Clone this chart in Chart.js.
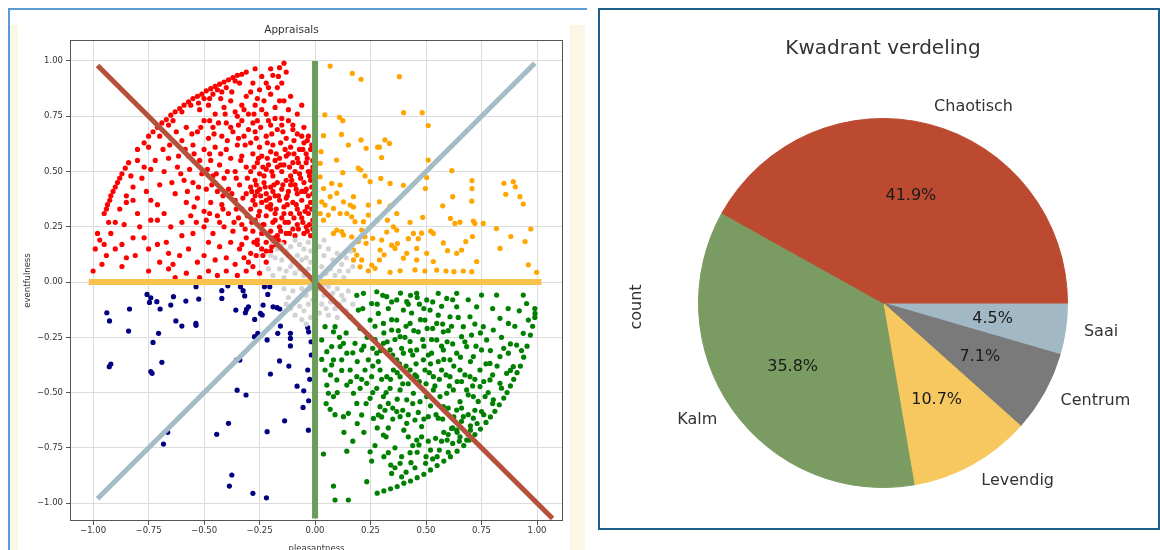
<!DOCTYPE html>
<html>
<head>
<meta charset="utf-8">
<script src="https://cdn.jsdelivr.net/npm/chart.js@4.4.1/dist/chart.umd.min.js"></script>
<style>
  html, body { margin:0; padding:0; background:#fff; width:1160px; height:550px; overflow:hidden; }
  .frameL { position:absolute; left:8px; top:8px; width:577px; height:560px; border-top:2px solid #5b9bd5; border-left:2px solid #5b9bd5; }
  .cream { position:absolute; background:#fbf7e6; }
  #leftBox { position:absolute; left:0; top:0; width:590px; height:560px; }
  #rightPanel { position:absolute; left:598px; top:8px; width:558px; height:518px; border:2px solid #1f5f8b; }
  #rightBox { position:absolute; left:600px; top:10px; width:556px; height:516px; }
</style>
</head>
<body>
<div class="frameL"></div>
<div class="cream" style="left:10px; top:25px; width:8px; height:530px;"></div>
<div class="cream" style="left:570px; top:25px; width:15px; height:530px;"></div>
<div id="leftBox"><canvas id="appraisalChart"></canvas></div>
<div id="rightPanel"></div>
<div id="rightBox"><canvas id="quadrantPie"></canvas></div>
<script>
const FONT = '"DejaVu Sans", sans-serif';

// tick labels
const xTicks = [-1.00, -0.75, -0.50, -0.25, 0.00, 0.25, 0.50, 0.75, 1.00];
const yTicks = [-1.00, -0.75, -0.50, -0.25, 0.00, 0.25, 0.50, 0.75, 1.00];

// quadrant divider lines, [x, y] start and end
const lineBrown = [[-0.98, 0.98], [1.07, -1.07]];
const lineBlue = [[-0.98, -0.98], [0.99, 0.99]];
const lineGreen = [[0, 1.0], [0, -1.07]];
const lineYellow = [[-1.02, 0], [1.02, 0]];

// scatter points per quadrant [pleasantness, eventfulness]
const chaotischPts = [
  [-0.31,0.95],[-0.33,0.94],[-0.35,0.935],[-0.37,0.925],[-0.39,0.915],[-0.41,0.905],[-0.43,0.895],[-0.45,0.885],[-0.47,0.875],[-0.49,0.865],
  [-0.51,0.85],[-0.53,0.84],[-0.55,0.83],[-0.57,0.815],[-0.59,0.8],[-0.61,0.785],[-0.63,0.77],[-0.65,0.755],[-0.67,0.735],[-0.69,0.72],
  [-0.71,0.7],[-0.73,0.68],[-0.75,0.66],[-0.77,0.63],[-0.8,0.6],[-0.84,0.54],[-0.855,0.515],[-0.87,0.49],[-0.88,0.47],[-0.89,0.45],
  [-0.9,0.43],[-0.91,0.41],[-0.92,0.39],[-0.925,0.37],[-0.935,0.35],[-0.94,0.33],[-0.95,0.31],
  [-0.34,0.9],[-0.4,0.88],[-0.46,0.85],[-0.5,0.83],[-0.44,0.87],[-0.56,0.8],[-0.6,0.77],[-0.64,0.73],[-0.36,0.91],[-0.42,0.86],[-0.66,0.71],[-0.7,0.66],
  [-0.14,0.99],[-0.16,0.97],[-0.2,0.965],[-0.27,0.965],[-0.24,0.93],[-0.19,0.935],[-0.165,0.93],[-0.28,0.9],[-0.22,0.9],[-0.17,0.88],
  [-0.25,0.87],[-0.29,0.86],[-0.2,0.85],[-0.14,0.82],[-0.23,0.82],[-0.31,0.84],[-0.27,0.8],[-0.18,0.79],[-0.12,0.78],[-0.22,0.76],
  [-0.3,0.76],[-0.08,0.76],[-0.15,0.74],[-0.26,0.73],[-0.35,0.75],[-0.1,0.71],[-0.05,0.7],[-0.2,0.71],
  [-0.52,0.78],[-0.48,0.8],[-0.45,0.76],[-0.41,0.79],[-0.38,0.82],[-0.36,0.77],[-0.33,0.73],[-0.4,0.72],[-0.46,0.7],[-0.5,0.73],
  [-0.53,0.68],[-0.48,0.65],[-0.42,0.66],[-0.37,0.68],[-0.32,0.66],[-0.35,0.62],[-0.4,0.6],[-0.45,0.61],[-0.5,0.6],[-0.55,0.62],
  [-0.52,0.55],[-0.47,0.55],[-0.43,0.53],[-0.38,0.56],[-0.33,0.57],[-0.31,0.52],[-0.36,0.5],[-0.41,0.47],[-0.46,0.48],[-0.51,0.49],
  [-0.55,0.45],[-0.49,0.42],[-0.44,0.41],[-0.39,0.42],[-0.34,0.44],[-0.31,0.4],[-0.36,0.37],[-0.42,0.35],[-0.47,0.36],[-0.53,0.38],
  [-0.5,0.32],[-0.44,0.3],[-0.39,0.31],[-0.33,0.33],[-0.58,0.7],[-0.6,0.64],[-0.57,0.57],[-0.62,0.52],[-0.59,0.46],[-0.63,0.4],[-0.58,0.36],
  [-0.75,0.61],[-0.8,0.55],[-0.74,0.51],[-0.78,0.47],[-0.82,0.43],[-0.85,0.39],[-0.82,0.37],[-0.88,0.33],[-0.85,0.36],[-0.74,0.37],
  [-0.7,0.44],[-0.68,0.5],[-0.66,0.56],[-0.71,0.28],[-0.68,0.31],[-0.74,0.28],[-0.79,0.25],[-0.65,0.25],[-0.6,0.21],[-0.67,0.18],
  [-0.61,0.12],[-0.66,0.13],[-0.66,0.06],[-0.7,0.09],[-0.75,0.15],[-0.82,0.2],[-0.87,0.17],[-0.85,0.11],[-0.87,0.07],[-0.92,0.22],
  [-0.95,0.17],[-0.97,0.19],[-0.98,0.22],[-0.99,0.15],[-0.94,0.12],[-1.0,0.05],[-0.9,0.27],[-0.56,0.3],[-0.6,0.27],[-0.55,0.22],
  [-0.57,0.15],[-0.53,0.09],[-0.58,0.04],[-0.63,0.02],
  [-0.5,0.25],[-0.46,0.22],[-0.41,0.25],[-0.37,0.23],[-0.33,0.26],[-0.48,0.18],[-0.43,0.16],[-0.38,0.18],[-0.34,0.15],[-0.31,0.2],
  [-0.5,0.12],[-0.45,0.1],[-0.4,0.11],[-0.36,0.08],[-0.32,0.11],[-0.48,0.05],[-0.44,0.03],[-0.4,0.05],[-0.35,0.03],[-0.31,0.05],
  [-0.52,0.02],[-0.28,0.07],[-0.25,0.04],[-0.22,0.09],[-0.29,0.13],[-0.26,0.17],[-0.22,0.14],[-0.19,0.19],
  [-0.27,0.68],[-0.22,0.66],[-0.17,0.69],[-0.13,0.65],[-0.08,0.67],[-0.03,0.66],[-0.29,0.63],[-0.19,0.62],[-0.11,0.61],[-0.05,0.63],[-0.25,0.61],
  [-0.28,0.58],[-0.24,0.57],[-0.2,0.59],[-0.16,0.56],[-0.12,0.58],[-0.08,0.56],[-0.04,0.58],[-0.01,0.55],[-0.26,0.54],[-0.21,0.53],
  [-0.14,0.53],[-0.06,0.52],[-0.1,0.54],[-0.18,0.55],
  [-0.29,0.5],[-0.25,0.49],[-0.22,0.51],[-0.19,0.48],[-0.15,0.5],[-0.11,0.48],[-0.07,0.49],[-0.03,0.5],[-0.02,0.46],[-0.27,0.46],
  [-0.23,0.45],[-0.17,0.45],[-0.13,0.46],[-0.09,0.44],[-0.05,0.45],[-0.2,0.43],[-0.15,0.42],
  [-0.29,0.43],[-0.26,0.41],[-0.22,0.4],[-0.18,0.39],[-0.12,0.41],[-0.08,0.4],[-0.04,0.42],[-0.01,0.4],[-0.28,0.37],[-0.24,0.36],
  [-0.2,0.35],[-0.16,0.37],[-0.1,0.36],[-0.06,0.37],[-0.02,0.36],[-0.13,0.38],[-0.27,0.39],[-0.14,0.34],[-0.08,0.33],
  [-0.29,0.33],[-0.25,0.32],[-0.22,0.3],[-0.18,0.31],[-0.15,0.29],[-0.11,0.31],[-0.06,0.29],[-0.03,0.31],[-0.01,0.28],[-0.27,0.28],
  [-0.23,0.26],[-0.19,0.27],[-0.16,0.25],[-0.12,0.27],[-0.08,0.26],[-0.04,0.25],[-0.2,0.33],[-0.1,0.24],
  [-0.28,0.23],[-0.24,0.22],[-0.2,0.23],[-0.17,0.21],[-0.13,0.22],[-0.09,0.21],[-0.05,0.22],[-0.02,0.21],[-0.26,0.19],[-0.22,0.18],
  [-0.18,0.17],[-0.14,0.18],[-0.24,0.15],[-0.2,0.14],[-0.01,0.24],
  [-0.02,0.6],[-0.01,0.52],[-0.04,0.54],[-0.015,0.43],[-0.035,0.34],[-0.06,0.41],[-0.07,0.6],[-0.13,0.57],[-0.17,0.52],[-0.23,0.48],
  [-0.09,0.5],[-0.11,0.44],[-0.19,0.41],[-0.25,0.42],[-0.03,0.39],[-0.14,0.31],[-0.07,0.31],[-0.18,0.28],[-0.22,0.37],[-0.27,0.35],
  [-0.28,0.72],[-0.18,0.74],[-0.12,0.73],[-0.24,0.78],[-0.33,0.8],[-0.16,0.82],[-0.3,0.69],
  [-0.345,0.71],[-0.315,0.62],[-0.335,0.55],[-0.305,0.47],[-0.325,0.38],[-0.345,0.29],[-0.315,0.24],[-0.33,0.17],[-0.3,0.09],[-0.265,0.12],
  [-0.235,0.26],[-0.255,0.3],[-0.215,0.34],[-0.175,0.33],[-0.135,0.27],[-0.095,0.29],[-0.055,0.27],[-0.025,0.26],[-0.045,0.32],[-0.085,0.35],
  [-0.125,0.35],[-0.165,0.39],[-0.205,0.38],[-0.245,0.39],[-0.285,0.41],[-0.265,0.44],[-0.225,0.43],[-0.185,0.44],[-0.145,0.44],[-0.105,0.46],
  [-0.065,0.47],[-0.025,0.48],[-0.045,0.41],[-0.085,0.42],[-0.125,0.39],[-0.015,0.33],[-0.015,0.5],[-0.035,0.56],[-0.075,0.54],[-0.115,0.52],
  [-0.155,0.53],[-0.195,0.5],[-0.235,0.52],[-0.275,0.52],[-0.255,0.56],[-0.215,0.56],[-0.175,0.58],[-0.135,0.6],[-0.095,0.58],[-0.055,0.6],
  [-0.015,0.62],[-0.035,0.64],[-0.095,0.64],[-0.155,0.63],[-0.215,0.63],[-0.265,0.65],[-0.245,0.7],[-0.195,0.67],[-0.145,0.68],[-0.1,0.69],
  [-0.06,0.66],[-0.15,0.71],[-0.21,0.73],[-0.275,0.76],[-0.185,0.2],[-0.155,0.23],[-0.115,0.22],[-0.075,0.24],[-0.035,0.23],[-0.245,0.25],
  [-0.285,0.27],[-0.305,0.3],[-0.275,0.18],[-0.235,0.12],[-0.195,0.16],[-0.165,0.19],
  [-0.375,0.86],[-0.425,0.83],[-0.475,0.83],[-0.525,0.81],[-0.405,0.76],[-0.435,0.72],[-0.475,0.73],[-0.515,0.7],[-0.555,0.67],[-0.455,0.67],
  [-0.395,0.64],[-0.345,0.65],[-0.425,0.58],[-0.475,0.58],[-0.545,0.58],[-0.585,0.6],[-0.615,0.57],[-0.605,0.49],[-0.565,0.51],[-0.485,0.51],
  [-0.445,0.49],[-0.395,0.5],[-0.355,0.47],[-0.375,0.4],[-0.415,0.39],[-0.465,0.44],[-0.525,0.43],[-0.575,0.41],[-0.645,0.45],[-0.545,0.34],
  [-0.475,0.31],[-0.415,0.33],[-0.355,0.33],[-0.365,0.27],[-0.43,0.27],[-0.49,0.28],[-0.535,0.27],[-0.655,0.62],[-0.625,0.68],[-0.685,0.6],
  [-0.72,0.55],[-0.77,0.52],[-0.83,0.48],[-0.76,0.41],[-0.71,0.35],[-0.8,0.31],[-0.86,0.26],[-0.93,0.27],[-0.77,0.2],[-0.71,0.17],
  [-0.64,0.08],[-0.75,0.05],[-0.81,0.12],[-0.9,0.15],[-0.96,0.08],
  [-0.26,0.83],[-0.21,0.88],[-0.15,0.9],[-0.11,0.84],[-0.06,0.8],[-0.32,0.78],[-0.38,0.7],[-0.13,0.95]
];

const levendigPts = [
  [0.068,0.977],[0.168,0.944],[0.207,0.917],[0.38,0.929],[0.399,0.766],[0.483,0.766],[0.51,0.708],[0.044,0.756],[0.11,0.745],[0.125,0.73],
  [0.038,0.662],[0.119,0.668],[0.207,0.643],[0.282,0.61],[0.29,0.61],[0.315,0.643],[0.335,0.627],[0.23,0.605],[0.15,0.62],[0.027,0.59],
  [0.097,0.552],[0.3,0.563],[0.023,0.537],[0.51,0.552],[0.195,0.515],[0.206,0.507],[0.125,0.495],[0.225,0.48],[0.248,0.454],[0.296,0.469],
  [0.338,0.446],[0.398,0.438],[0.503,0.473],[0.616,0.504],[0.707,0.459],[0.707,0.423],[0.851,0.447],[0.893,0.454],[0.902,0.431],[0.859,0.397],
  [0.923,0.386],[0.938,0.353],[0.497,0.423],[0.62,0.386],[0.706,0.366],[0.575,0.345],[0.61,0.288],[0.63,0.265],[0.653,0.271],[0.713,0.276],
  [0.72,0.265],[0.758,0.265],[0.817,0.242],[0.972,0.24],[0.882,0.206],[0.833,0.152],[0.946,0.183],[0.961,0.078],[0.998,0.044],[0.709,0.206],
  [0.679,0.183],[0.66,0.145],[0.638,0.13],[0.597,0.142],[0.578,0.177],[0.728,0.093],[0.706,0.047],[0.668,0.05],[0.626,0.047],[0.59,0.05],
  [0.548,0.054],[0.533,0.093],[0.503,0.13],[0.458,0.152],[0.42,0.196],[0.48,0.221],[0.443,0.22],[0.465,0.196],[0.521,0.23],[0.533,0.22],
  [0.485,0.293],[0.428,0.27],[0.368,0.31],[0.353,0.25],[0.368,0.235],[0.323,0.226],[0.3,0.19],[0.345,0.167],[0.36,0.152],[0.371,0.174],
  [0.398,0.108],[0.458,0.1],[0.45,0.055],[0.495,0.05],[0.413,0.13],[0.293,0.145],[0.311,0.123],[0.29,0.1],[0.255,0.077],[0.27,0.062],
  [0.338,0.044],[0.383,0.051],[0.23,0.175],[0.26,0.198],[0.225,0.205],[0.21,0.235],[0.218,0.273],[0.24,0.303],[0.28,0.28],[0.326,0.28],
  [0.338,0.344],[0.29,0.363],[0.24,0.348],[0.173,0.386],[0.173,0.34],[0.165,0.295],[0.18,0.273],[0.12,0.228],[0.128,0.213],[0.098,0.235],
  [0.083,0.22],[0.143,0.31],[0.113,0.31],[0.083,0.333],[0.06,0.303],[0.038,0.28],[0.023,0.31],[0.045,0.348],[0.068,0.386],[0.098,0.402],
  [0.113,0.439],[0.075,0.446],[0.038,0.423],[0.023,0.476],[0.03,0.363],[0.128,0.363],[0.158,0.348],[0.173,0.145],[0.188,0.122],[0.173,0.1],
  [0.21,0.1],[0.203,0.069],[0.24,0.051],[0.165,0.205],[0.195,0.183]
];

const kalmPts = [
  [0.28,-0.955],[0.31,-0.945],[0.34,-0.935],[0.37,-0.925],[0.4,-0.91],[0.43,-0.9],[0.46,-0.885],[0.49,-0.87],[0.52,-0.85],[0.55,-0.83],
  [0.58,-0.81],[0.61,-0.79],[0.64,-0.765],[0.67,-0.74],[0.695,-0.715],[0.72,-0.69],[0.745,-0.665],[0.77,-0.635],[0.79,-0.61],[0.81,-0.585],
  [0.83,-0.555],[0.85,-0.525],[0.865,-0.5],[0.88,-0.47],[0.895,-0.44],[0.91,-0.41],[0.925,-0.38],[0.94,-0.34],[0.955,-0.29],[0.97,-0.24],
  [0.98,-0.2],[0.99,-0.16],[0.99,-0.12],
  [0.6,-0.77],[0.65,-0.72],[0.7,-0.67],[0.73,-0.64],[0.76,-0.6],[0.8,-0.55],[0.69,-0.69],[0.55,-0.79],[0.84,-0.48],[0.88,-0.4],
  [0.038,-0.778],[0.083,-0.923],[0.09,-0.986],[0.15,-0.986],[0.143,-0.765],[0.233,-0.903],[0.248,-0.768],[0.255,-0.81],[0.308,-0.692],[0.33,-0.772],
  [0.341,-0.828],[0.345,-0.866],[0.383,-0.82],[0.39,-0.881],[0.432,-0.817],[0.428,-0.772],[0.458,-0.715],[0.468,-0.737],[0.498,-0.82],[0.52,-0.76],
  [0.543,-0.707],[0.595,-0.715],[0.615,-0.662],[0.638,-0.67],[0.653,-0.7],[0.683,-0.715],[0.068,-0.576],[0.06,-0.503],[0.083,-0.518],[0.128,-0.609],
  [0.15,-0.594],[0.188,-0.549],[0.21,-0.601],[0.173,-0.503],[0.248,-0.526],[0.263,-0.617],[0.285,-0.601],[0.293,-0.564],[0.33,-0.549],[0.368,-0.586],
  [0.383,-0.609],[0.413,-0.639],[0.45,-0.624],[0.48,-0.654],[0.51,-0.609],[0.555,-0.616],[0.578,-0.564],[0.638,-0.579],[0.668,-0.609],[0.713,-0.616],
  [0.75,-0.586],[0.766,-0.518],[0.803,-0.533],[0.833,-0.458],[0.863,-0.413],[0.893,-0.383],[0.788,-0.443],[0.743,-0.473],[0.713,-0.518],[0.683,-0.488],
  [0.653,-0.541],[0.623,-0.488],[0.593,-0.503],[0.563,-0.518],[0.533,-0.488],[0.503,-0.518],[0.473,-0.541],[0.443,-0.503],[0.413,-0.533],[0.383,-0.488],
  [0.338,-0.481],[0.308,-0.518],[0.278,-0.481],[0.233,-0.458],[0.203,-0.481],[0.143,-0.466],[0.098,-0.443],[0.053,-0.466],[0.045,-0.398],[0.075,-0.375],
  [0.053,-0.315],[0.083,-0.352],[0.12,-0.352],[0.158,-0.398],[0.188,-0.428],[0.225,-0.398],[0.255,-0.428],[0.293,-0.398],[0.323,-0.428],[0.353,-0.398],
  [0.383,-0.428],[0.428,-0.398],[0.458,-0.428],[0.495,-0.398],[0.533,-0.428],[0.57,-0.398],[0.608,-0.428],[0.653,-0.398],[0.698,-0.428],[0.743,-0.398],
  [0.788,-0.368],[0.833,-0.337],[0.871,-0.322],[0.908,-0.285],[0.938,-0.232],[0.961,-0.172],[0.991,-0.142],[0.938,-0.059],[0.953,-0.097],[0.818,-0.059],
  [0.833,-0.164],[0.871,-0.187],[0.803,-0.217],[0.773,-0.262],[0.75,-0.307],[0.713,-0.337],[0.683,-0.292],[0.66,-0.247],[0.638,-0.322],[0.608,-0.352],
  [0.578,-0.307],[0.548,-0.262],[0.525,-0.322],[0.488,-0.352],[0.458,-0.307],[0.428,-0.269],[0.398,-0.322],[0.368,-0.352],[0.338,-0.307],[0.308,-0.277],
  [0.278,-0.322],[0.24,-0.352],[0.21,-0.307],[0.18,-0.277],[0.143,-0.322],[0.113,-0.292],[0.075,-0.292],[0.03,-0.262],[0.045,-0.202],[0.083,-0.225],
  [0.128,-0.277],[0.203,-0.209],[0.248,-0.172],[0.285,-0.142],[0.308,-0.187],[0.345,-0.217],[0.383,-0.247],[0.368,-0.172],[0.398,-0.127],[0.428,-0.187],
  [0.465,-0.225],[0.495,-0.172],[0.518,-0.127],[0.548,-0.187],[0.578,-0.225],[0.608,-0.157],[0.638,-0.112],[0.668,-0.202],[0.698,-0.157],[0.728,-0.112],
  [0.75,-0.059],[0.758,-0.202],[0.638,-0.051],[0.593,-0.074],[0.555,-0.051],[0.503,-0.081],[0.458,-0.051],[0.413,-0.089],[0.368,-0.081],[0.323,-0.066],
  [0.278,-0.044],[0.255,-0.097],[0.218,-0.051],[0.195,-0.127],[0.188,-0.06],[0.158,-0.157],[0.09,-0.202],
  [0.33,-0.12],[0.36,-0.26],[0.41,-0.2],[0.44,-0.33],[0.47,-0.1],[0.49,-0.29],[0.52,-0.37],[0.45,-0.42],[0.38,-0.37],[0.34,-0.44],
  [0.42,-0.46],[0.5,-0.46],[0.56,-0.44],[0.58,-0.35],[0.53,-0.21],[0.43,-0.06],[0.39,-0.3],[0.31,-0.23],[0.27,-0.2],[0.26,-0.38],
  [0.6,-0.22],[0.62,-0.28],[0.66,-0.45],[0.71,-0.47],[0.35,-0.57],[0.4,-0.67],[0.44,-0.74],[0.5,-0.79],[0.56,-0.76],[0.58,-0.68],
  [0.62,-0.73],[0.3,-0.61],[0.22,-0.68],[0.19,-0.64],[0.33,-0.66],
  [0.215,-0.12],[0.235,-0.25],[0.26,-0.3],[0.285,-0.36],[0.3,-0.44],[0.32,-0.5],[0.35,-0.33],[0.37,-0.41],[0.395,-0.46],[0.41,-0.38],
  [0.43,-0.31],[0.455,-0.37],[0.47,-0.45],[0.485,-0.26],[0.51,-0.33],[0.515,-0.41],[0.54,-0.47],[0.555,-0.36],[0.57,-0.29],[0.59,-0.42],
  [0.605,-0.47],[0.625,-0.38],[0.64,-0.45],[0.655,-0.34],[0.675,-0.42],[0.69,-0.51],[0.7,-0.36],[0.72,-0.44],[0.735,-0.54],[0.76,-0.45],
  [0.27,-0.26],[0.295,-0.31],[0.325,-0.27],[0.345,-0.17],[0.375,-0.22],[0.405,-0.25],[0.435,-0.14],[0.445,-0.22],[0.475,-0.17],[0.505,-0.21],
  [0.525,-0.26],[0.555,-0.15],[0.575,-0.19],[0.595,-0.27],[0.615,-0.2],[0.645,-0.16],[0.675,-0.27],[0.705,-0.24],[0.725,-0.29],[0.745,-0.23],
  [0.23,-0.55],[0.26,-0.5],[0.28,-0.66],[0.315,-0.58],[0.35,-0.62],[0.37,-0.53],[0.395,-0.58],[0.42,-0.6],[0.44,-0.55],[0.465,-0.59],
  [0.49,-0.62],[0.52,-0.56],[0.545,-0.6],[0.575,-0.62],[0.6,-0.57],[0.625,-0.61],[0.66,-0.57],[0.69,-0.6],[0.72,-0.58],[0.7,-0.65],
  [0.28,-0.1],[0.305,-0.06],[0.345,-0.09],[0.385,-0.05],[0.42,-0.1],[0.46,-0.07],[0.49,-0.12],[0.53,-0.09],[0.57,-0.11],[0.62,-0.08],
  [0.32,-0.7],[0.36,-0.75],[0.39,-0.79],[0.42,-0.7],[0.46,-0.77],[0.48,-0.7],[0.51,-0.72],[0.53,-0.8],[0.57,-0.72],[0.6,-0.69],
  [0.45,-0.84],[0.41,-0.86],[0.36,-0.84],[0.31,-0.79],[0.27,-0.74],[0.64,-0.68],[0.66,-0.63],[0.62,-0.66],
  [0.78,-0.5],[0.8,-0.42],[0.82,-0.38],[0.85,-0.3],[0.79,-0.31],[0.84,-0.25],[0.9,-0.2],[0.87,-0.12],[0.92,-0.13],[0.8,-0.12],
  [0.77,-0.37],[0.72,-0.19],[0.69,-0.08],[0.88,-0.28],[0.93,-0.31],
  [0.03,-0.35],[0.07,-0.42],[0.1,-0.5],[0.12,-0.4],[0.16,-0.45],[0.19,-0.36],[0.14,-0.23],[0.17,-0.32],[0.11,-0.25],[0.05,-0.55],
  [0.09,-0.6],[0.13,-0.68],[0.17,-0.72],[0.21,-0.44],[0.22,-0.29]
];

const saaiPts = [
  [-0.938,-0.139],[-0.926,-0.176],[-0.836,-0.122],[-0.84,-0.222],[-0.927,-0.383],[-0.92,-0.371],[-0.757,-0.056],[-0.74,-0.071],[-0.746,-0.092],[-0.713,-0.089],
  [-0.698,-0.122],[-0.705,-0.232],[-0.73,-0.273],[-0.74,-0.405],[-0.734,-0.413],[-0.69,-0.363],[-0.683,-0.733],[-0.664,-0.68],[-0.638,-0.066],[-0.65,-0.104],
  [-0.627,-0.176],[-0.6,-0.199],[-0.582,-0.086],[-0.537,-0.187],[-0.536,-0.196],[-0.524,-0.077],[-0.536,-0.021],[-0.443,-0.689],[-0.39,-0.639],[-0.375,-0.873],
  [-0.386,-0.923],[-0.42,-0.074],[-0.42,-0.039],[-0.393,-0.017],[-0.357,-0.127],[-0.354,-0.353],[-0.339,-0.353],[-0.351,-0.489],[-0.311,-0.511],[-0.336,-0.021],
  [-0.324,-0.039],[-0.317,-0.063],[-0.309,-0.124],[-0.314,-0.139],[-0.3,-0.112],[-0.272,-0.169],[-0.28,-0.956],[-0.258,-0.232],[-0.246,-0.142],[-0.234,-0.104],
  [-0.238,-0.149],[-0.228,-0.021],[-0.213,-0.056],[-0.216,-0.262],[-0.201,-0.416],[-0.216,-0.677],[-0.219,-0.976],[-0.204,-0.021],[-0.189,-0.112],[-0.171,-0.116],
  [-0.159,-0.122],[-0.156,-0.199],[-0.168,-0.232],[-0.16,-0.357],[-0.137,-0.628],[-0.118,-0.38],[-0.111,-0.232],[-0.111,-0.255],[-0.111,-0.289],[-0.081,-0.471],
  [-0.051,-0.492],[-0.054,-0.567],[-0.033,-0.206],[-0.029,-0.225],[-0.033,-0.398],[-0.024,-0.44],[-0.029,-0.537],[-0.03,-0.67],[-0.018,-0.27],[-0.017,-0.33],
  [-0.273,-0.247]
];

const centrumPts = [
  [-0.19,0.18],[-0.17,0.15],[-0.15,0.17],[-0.13,0.14],[-0.11,0.16],[-0.09,0.19],[-0.07,0.17],[-0.05,0.15],[-0.03,0.18],[-0.02,0.14],
  [-0.18,0.11],[-0.15,0.1],[-0.12,0.12],[-0.1,0.09],[-0.08,0.12],[-0.06,0.1],[-0.04,0.11],[-0.02,0.09],[-0.16,0.06],[-0.13,0.05],
  [-0.11,0.07],[-0.09,0.04],[-0.07,0.06],[-0.05,0.03],[-0.03,0.06],[-0.19,0.03],[-0.14,0.02],[-0.21,0.06],[-0.2,0.12],
  [0.02,0.16],[0.04,0.12],[0.06,0.15],[0.08,0.1],[0.1,0.13],[0.12,0.08],[0.14,0.11],[0.03,0.07],[0.05,0.04],[0.07,0.06],
  [0.09,0.03],[0.11,0.05],[0.13,0.02],[0.15,0.05],[0.02,0.02],[0.16,0.14],[0.04,0.19],[0.17,0.07],
  [-0.02,-0.03],[-0.04,-0.06],[-0.06,-0.03],[-0.08,-0.08],[-0.1,-0.04],[-0.12,-0.07],[-0.03,-0.1],[-0.05,-0.13],[-0.07,-0.11],[-0.09,-0.15],
  [-0.11,-0.12],[-0.02,-0.16],[-0.04,-0.19],[-0.14,-0.03],[-0.13,-0.1],[-0.06,-0.17],[-0.01,-0.08],
  [0.02,-0.03],[0.04,-0.06],[0.06,-0.02],[0.08,-0.05],[0.1,-0.03],[0.12,-0.06],[0.03,-0.1],[0.05,-0.12],[0.07,-0.09],[0.09,-0.12],
  [0.11,-0.1],[0.13,-0.08],[0.15,-0.04],[0.02,-0.14],[0.06,-0.15],[0.1,-0.16],[0.14,-0.13],[0.17,-0.1],[0.04,-0.01]
];

// pie data
const pieLabels = ['Chaotisch', 'Kalm', 'Levendig', 'Centrum', 'Saai'];
const pieValues = [41.9, 35.8, 10.7, 7.1, 4.5];
const pieColors = ['#bc4a31', '#7a9c62', '#f6c85f', '#7a7a7a', '#a2b9c5'];

const fmt = v => (v < 0 ? '\u2212' : '') + Math.abs(v).toFixed(2);
const toXY = arr => arr.map(p => ({x: p[0], y: p[1]}));

function lineSet(pts, color, w) {
    return {data: toXY(pts), showLine: true, borderColor: color, borderWidth: w,
            pointRadius: 0, borderCapStyle: 'butt', fill: false};
}
function dotSet(pts, color) {
    return {data: toXY(pts), backgroundColor: color, borderWidth: 0, pointRadius: 2.6, showLine: false};
}

const framePlugin = {
    id: 'frame',
    afterDraw(chart) {
        const a = chart.chartArea, ctx = chart.ctx;
        ctx.save();
        ctx.strokeStyle = '#555';
        ctx.lineWidth = 1;
        ctx.strokeRect(a.left + 0.5, a.top + 0.5, a.width - 1, a.height - 1);
        ctx.restore();
    }
};

var ctx1 = document.getElementById('appraisalChart').getContext('2d');
new Chart(ctx1, {
    type: 'scatter',
    data: {
        datasets: [
            lineSet(lineGreen, '#6a9c5a', 6),
            lineSet(lineBrown, '#b5503a', 5),
            lineSet(lineBlue, '#a3bcc5', 5),
            lineSet(lineYellow, '#f8c24c', 6),
            dotSet(centrumPts, '#d3d3d3'),
            dotSet(saaiPts, '#000080'),
            dotSet(levendigPts, '#ffa500'),
            dotSet(kalmPts, '#008000'),
            dotSet(chaotischPts, '#ff0000')
        ]
    },
    options: {
        responsive: true,
        maintainAspectRatio: false,
        animation: false,
        layout: { padding: { left: 20, right: 27, top: 0, bottom: 0 } },
        plugins: {
            legend: { display: false },
            tooltip: { enabled: false },
            title: {
                display: true,
                text: 'Appraisals',
                color: '#333',
                font: { family: FONT, size: 10.5, weight: 'normal' },
                padding: { top: 23.7, bottom: 3.7 }
            }
        },
        scales: {
            x: {
                type: 'linear',
                min: -1.104,
                max: 1.117,
                afterBuildTicks: s => { s.ticks = xTicks.map(v => ({value: v})); },
                afterFit: s => { s.height = 39; },
                ticks: { callback: v => fmt(v), color: '#333', font: { family: FONT, size: 8.5 }, padding: 1, maxRotation: 0, autoSkip: false },
                grid: { color: '#dcdcdc', tickColor: '#555', tickLength: 4 },
                border: { display: false },
                title: { display: true, text: 'pleasantness', color: '#333', font: { family: FONT, size: 8.5 }, padding: { top: 0, bottom: 6 } }
            },
            y: {
                type: 'linear',
                min: -1.081,
                max: 1.095,
                afterBuildTicks: s => { s.ticks = yTicks.map(v => ({value: v})); },
                afterFit: s => { s.width = 50; },
                ticks: { callback: v => fmt(v), color: '#333', font: { family: FONT, size: 8.5 }, padding: 3, autoSkip: false },
                grid: { color: '#dcdcdc', tickColor: '#555', tickLength: 4 },
                border: { display: false },
                title: { display: true, text: 'eventfulness', color: '#333', font: { family: FONT, size: 8.5 }, padding: { top: 2.9, bottom: 0 } }
            }
        }
    },
    plugins: [framePlugin]
});

// pie labels drawn like matplotlib: names at 1.1 r, percentages at 0.6 r
const pieText = {
    id: 'pieText',
    afterDatasetsDraw(chart) {
        const ctx = chart.ctx;
        const meta = chart.getDatasetMeta(0);
        const vals = chart.data.datasets[0].data;
        ctx.save();
        ctx.font = '16px ' + FONT;
        ctx.textBaseline = 'middle';
        meta.data.forEach((arc, i) => {
            const p = arc.getProps(['x', 'y', 'startAngle', 'endAngle', 'outerRadius'], true);
            const mid = (p.startAngle + p.endAngle) / 2;
            const c = Math.cos(mid), s = Math.sin(mid);
            ctx.fillStyle = '#1a1a1a';
            ctx.textAlign = 'center';
            ctx.fillText(vals[i].toFixed(1) + '%', p.x + c * p.outerRadius * 0.6, p.y + s * p.outerRadius * 0.6);
            ctx.fillStyle = '#333';
            ctx.textAlign = c >= 0 ? 'left' : 'right';
            ctx.fillText(chart.data.labels[i], p.x + c * p.outerRadius * 1.1, p.y + s * p.outerRadius * 1.1);
        });
        const a0 = meta.data[0];
        ctx.translate(a0.x - a0.outerRadius - 62, a0.y + 4);
        ctx.rotate(-Math.PI / 2);
        ctx.textAlign = 'center';
        ctx.fillStyle = '#333';
        ctx.fillText('count', 0, 0);
        ctx.restore();
    }
};

// matplotlib goes counter-clockwise from 3 o'clock, chart.js clockwise: reverse order
var ctx2 = document.getElementById('quadrantPie').getContext('2d');
new Chart(ctx2, {
    type: 'pie',
    data: {
        labels: pieLabels.slice().reverse(),
        datasets: [{
            data: pieValues.slice().reverse(),
            backgroundColor: pieColors.slice().reverse(),
            borderColor: pieColors.slice().reverse(),
            borderWidth: 1
        }]
    },
    options: {
        responsive: true,
        maintainAspectRatio: false,
        animation: false,
        rotation: 90,
        layout: { padding: { left: 98, right: 88, top: 0, bottom: 38 } },
        plugins: {
            legend: { display: false },
            tooltip: { enabled: false },
            title: {
                display: true,
                text: 'Kwadrant verdeling',
                color: '#333',
                font: { family: FONT, size: 20, weight: 'normal' },
                padding: { top: 27, bottom: 57 }
            }
        }
    },
    plugins: [pieText]
});
</script>
</body>
</html>
